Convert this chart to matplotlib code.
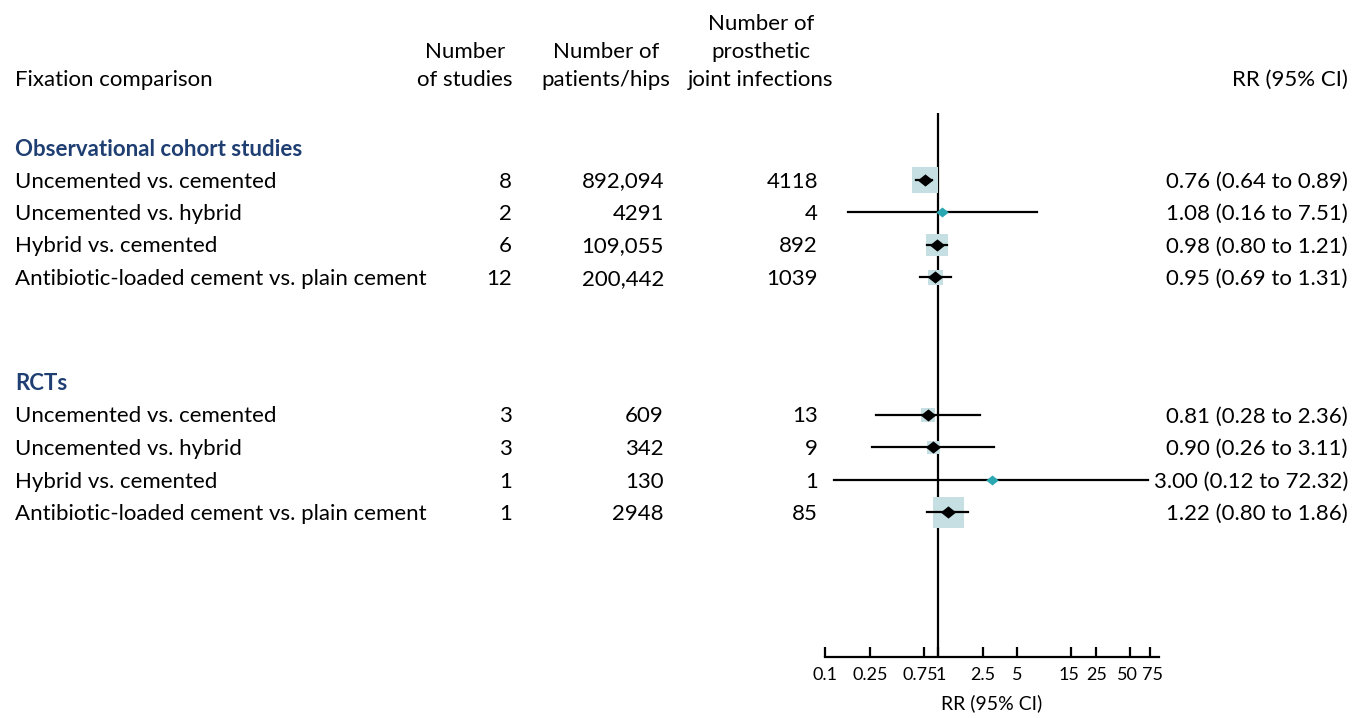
import matplotlib.pyplot as plt
from matplotlib.transforms import blended_transform_factory, ScaledTranslation
import numpy as np

plt.rcParams['font.family'] = ['Lato', 'DejaVu Sans']

# data
obs_labels = ['Uncemented vs. cemented', 'Uncemented vs. hybrid', 'Hybrid vs. cemented',
              'Antibiotic-loaded cement vs. plain cement']
obs_studies = [8, 2, 6, 12]
obs_patients = ['892,094', '4291', '109,055', '200,442']
obs_infections = [4118, 4, 892, 1039]
obs_rr = [0.76, 1.08, 0.98, 0.95]
obs_lo = [0.64, 0.16, 0.80, 0.69]
obs_hi = [0.89, 7.51, 1.21, 1.31]

rct_labels = ['Uncemented vs. cemented', 'Uncemented vs. hybrid', 'Hybrid vs. cemented',
              'Antibiotic-loaded cement vs. plain cement']
rct_studies = [3, 3, 1, 1]
rct_patients = ['609', '342', '130', '2948']
rct_infections = [13, 9, 1, 85]
rct_rr = [0.81, 0.90, 3.00, 1.22]
rct_lo = [0.28, 0.26, 0.12, 0.80]
rct_hi = [2.36, 3.11, 72.32, 1.86]

xticks = [0.1, 0.25, 0.75, 1, 2.5, 5, 15, 25, 50, 75]
xticklabels = ['0.1', '0.25', '0.75', '1', '2.5', '5', '15', '25', '50', '75']
# small horizontal nudges (px) so crowded tick labels don't collide
tick_nudge = [0, 0, -4, 3, 0, 0, -2, 1, -3, 3]

# styling: weight-box size in px, teal diamond where box is too small
obs_box = [27, 0, 23, 15]
rct_box = [14, 13, 0, 31]
obs_teal = [False, True, False, False]
rct_teal = [False, False, True, False]

W, H = 1354, 718
BOX_COL = '#c5dfe2'
TEAL = '#2aa7b0'
NAVY = '#1f3f73'
FS = 16

fig = plt.figure(figsize=(W / 100, H / 100), dpi=100)
ax = fig.add_axes([825 / W, (H - 657) / H, (1159 - 825) / W, (657 - 113) / H])
ax.set_xscale('log')
ax.set_xlim(0.1, 90.3)
ax.set_ylim(657, 113)  # y in pixel rows from the top
ax.minorticks_off()
for s in ['top', 'right', 'left']:
    ax.spines[s].set_visible(False)
ax.spines['bottom'].set_linewidth(1.6)
ax.set_yticks([])
ax.set_xticks(xticks)
ax.set_xticklabels([])
ax.tick_params(axis='x', direction='in', length=7, width=1.6)
ax.axvline(1, color='black', lw=1.6, zorder=1)

# tick labels drawn by hand so the crowded ones can be nudged apart
xtr = blended_transform_factory(ax.transData, ax.transAxes)
for xv, lab, dx in zip(xticks, xticklabels, tick_nudge):
    off = ScaledTranslation(dx / 100, -0.18, fig.dpi_scale_trans)
    ax.text(xv, 0, lab, transform=xtr + off, ha='center', va='center', fontsize=13, clip_on=False)
ax.text(0.5, 0, 'RR (95% CI)', transform=ax.transAxes + ScaledTranslation(0, -0.46, fig.dpi_scale_trans),
        ha='center', va='center', fontsize=14, clip_on=False)

tr = blended_transform_factory(fig.transFigure, ax.transData)


def txt(xpx, y, s, ha='left', **kw):
    ax.text(xpx / W, y + 2, s, transform=tr, ha=ha, va='center', fontsize=FS, clip_on=False, **kw)


# header
txt(15, 78, 'Fixation comparison')
txt(465, 50, 'Number', ha='center')
txt(465, 78, 'of studies', ha='center')
txt(606, 50, 'Number of', ha='center')
txt(606, 78, 'patients/hips', ha='center')
txt(761, 22, 'Number of', ha='center')
txt(761, 50, 'prosthetic', ha='center')
txt(761, 78, 'joint infections', ha='center')
txt(1348, 78, 'RR (95% CI)', ha='right')

diamond = [(-1, 0), (0, 0.8), (1, 0), (0, -0.8)]


def section(y0, title, labels, studies, patients, infections, rr, lo, hi, box, teal):
    txt(15, y0, title, fontweight='bold', color=NAVY)
    for i in range(len(labels)):
        y = y0 + 32.5 * (i + 1)
        txt(15, y, labels[i])
        txt(512, y, str(studies[i]), ha='right')
        txt(664, y, patients[i], ha='right')
        txt(818, y, str(infections[i]), ha='right')
        txt(1348, y, '%.2f (%.2f to %.2f)' % (rr[i], lo[i], hi[i]), ha='right')
        if box[i] > 0:
            ax.scatter([rr[i]], [y], marker='s', s=(box[i] * 0.72) ** 2, color=BOX_COL,
                       linewidths=0, zorder=2)
        ax.plot([lo[i], hi[i]], [y, y], color='black', lw=1.6, zorder=3)
        if teal[i]:
            ax.plot([rr[i]], [y], marker=diamond, ms=9, color=TEAL, mew=0, zorder=4)
        else:
            ax.plot([rr[i]], [y], marker=diamond, ms=11, color='black', mew=0, zorder=4)


section(147, 'Observational cohort studies', obs_labels, obs_studies, obs_patients,
        obs_infections, obs_rr, obs_lo, obs_hi, obs_box, obs_teal)
section(382, 'RCTs', rct_labels, rct_studies, rct_patients,
        rct_infections, rct_rr, rct_lo, rct_hi, rct_box, rct_teal)

fig.savefig('out.png', dpi=100)
plt.close(fig)
